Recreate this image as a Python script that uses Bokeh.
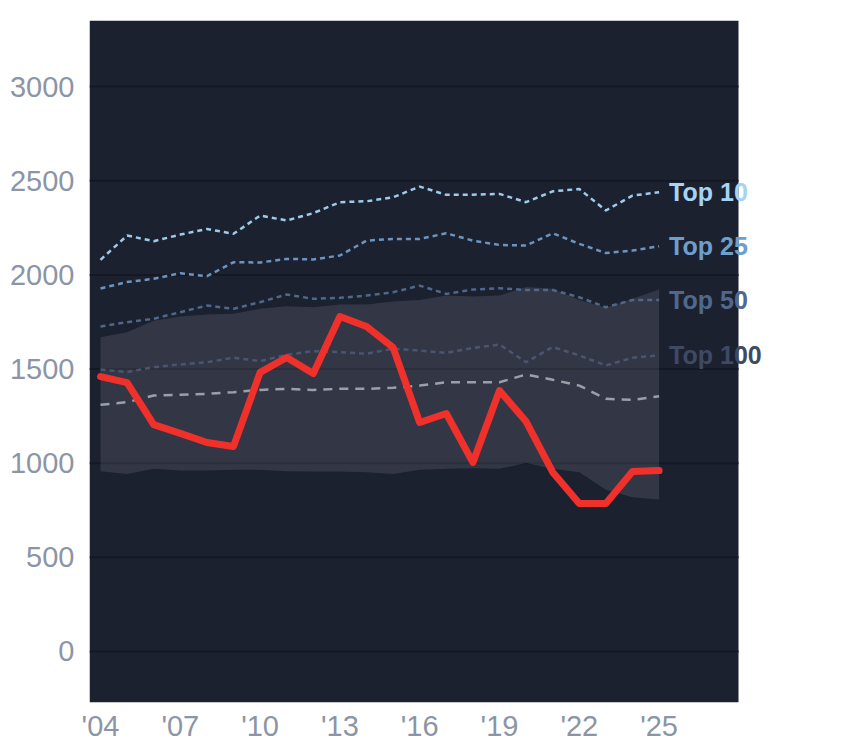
from bokeh.plotting import figure
from bokeh.models import FixedTicker, Label, ColumnDataSource, Range1d, BoxAnnotation
from bokeh.embed import file_html
from bokeh.resources import INLINE

# data
years = list(range(2004, 2026))
player = [1460, 1428, 1205, 1158, 1110, 1089, 1482, 1561, 1476, 1779, 1726,
          1614, 1216, 1264, 1004, 1386, 1221, 952, 786, 786, 956, 961]
band_low = [957, 943, 970, 961, 961, 965, 965, 957, 956, 956, 952,
            943, 965, 970, 973, 970, 1001, 970, 952, 859, 819, 807]
band_high = [1669, 1696, 1757, 1779, 1789, 1793, 1820, 1834, 1828, 1843, 1843,
             1858, 1866, 1890, 1885, 1890, 1935, 1926, 1867, 1825, 1873, 1922]
top10 = [2080, 2209, 2179, 2214, 2244, 2218, 2315, 2289, 2328, 2386, 2391,
         2412, 2469, 2425, 2426, 2430, 2386, 2444, 2456, 2342, 2421, 2439]
top25 = [1928, 1962, 1979, 2009, 1993, 2067, 2066, 2085, 2082, 2103, 2182,
         2191, 2191, 2221, 2182, 2159, 2156, 2221, 2165, 2116, 2129, 2152]
top50 = [1726, 1749, 1767, 1802, 1837, 1820, 1855, 1896, 1873, 1878, 1890,
         1908, 1943, 1899, 1922, 1929, 1920, 1920, 1881, 1828, 1867, 1867]
top100 = [1497, 1484, 1510, 1524, 1536, 1560, 1542, 1576, 1595, 1590, 1581,
          1608, 1598, 1586, 1612, 1630, 1536, 1617, 1572, 1519, 1560, 1572]
median = [1310, 1324, 1359, 1363, 1368, 1377, 1389, 1395, 1389, 1395, 1395,
          1400, 1412, 1430, 1430, 1430, 1471, 1443, 1412, 1342, 1336, 1356]

x_ticks = [2004, 2007, 2010, 2013, 2016, 2019, 2022, 2025]
x_tick_labels = ["'04", "'07", "'10", "'13", "'16", "'19", "'22", "'25"]
y_ticks = [0, 500, 1000, 1500, 2000, 2500, 3000]
x_start, x_panel_end, x_end = 2003.586, 2027.985, 2029.94

src = ColumnDataSource(dict(year=years, player=player, lo=band_low, hi=band_high,
                            top10=top10, top25=top25, top50=top50,
                            top100=top100, median=median))

p = figure(frame_width=701, frame_height=682, output_backend="svg",
           toolbar_location=None, x_range=Range1d(x_start, x_end),
           y_range=Range1d(-271, 3351),
           min_border_left=89, min_border_top=20, min_border_right=10,
           min_border_bottom=40)
p.background_fill_color = "white"
p.border_fill_color = "white"
p.outline_line_color = None
p.grid.visible = False

# dark panel that stops short of the labels
p.add_layout(BoxAnnotation(right=x_panel_end, fill_color="#1c2130", fill_alpha=1,
                           line_color=None, level="underlay"))

for ax in (p.xaxis[0], p.yaxis[0]):
    ax.axis_line_color = None
    ax.major_tick_line_color = None
    ax.minor_tick_line_color = None
    ax.major_label_text_font = "Liberation Sans"
    ax.major_label_text_font_size = "29px"
    ax.major_label_text_color = "#8c95a5"
p.yaxis.ticker = FixedTicker(ticks=y_ticks)
p.yaxis.major_label_standoff = 9
p.xaxis.ticker = FixedTicker(ticks=x_ticks)
p.xaxis.major_label_overrides = dict(zip(x_ticks, x_tick_labels))
p.xaxis.major_label_standoff = 1

# horizontal grid lines, only across the dark panel
p.segment(x0=x_start, x1=x_panel_end, y0=y_ticks, y1=y_ticks,
          line_color="#141823", line_width=2)

p.varea(x="year", y1="lo", y2="hi", source=src, fill_color="white", fill_alpha=0.1)

p.line("year", "top10", source=src, line_color="#9fcbeb", line_width=2.5, line_dash="5 4")
p.line("year", "top25", source=src, line_color="#6b95c0", line_width=2.5, line_dash="5 4")
p.line("year", "top50", source=src, line_color="#4f6789", line_width=2.5, line_dash="5 4")
p.line("year", "top100", source=src, line_color="#4a566f", line_width=2.5, line_dash="5 4")
p.line("year", "median", source=src, line_color="#9aa0aa", line_width=2.5, line_dash="9 7")
p.line("year", "player", source=src, line_color="#f0302a", line_width=7,
       line_join="round", line_cap="round")

labels = [("Top 10", top10[-1], "#a6d3f4"), ("Top 25", top25[-1], "#6e9ecb"),
          ("Top 50", top50[-1], "#4f698d"), ("Top 100", top100[-1], "#3e4a63")]
for txt, yv, col in labels:
    p.add_layout(Label(x=years[-1], y=yv, x_offset=10, text=txt, text_color=col,
                       text_font="Liberation Sans", text_font_style="bold",
                       text_font_size="25px", text_baseline="middle"))

open("out.html", "w").write(file_html(p, INLINE))
